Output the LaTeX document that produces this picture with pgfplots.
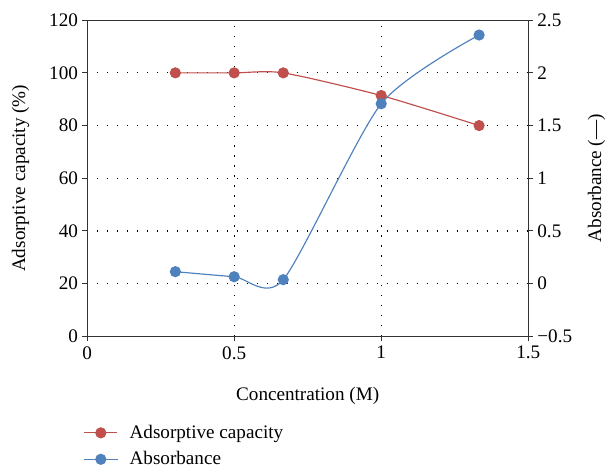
\documentclass[border={3.8pt 0pt 2pt 4.9pt}]{standalone}
\usepackage{fontspec}
\setmainfont{Liberation Serif}
\usepackage{pgfplots}
\pgfplotsset{compat=1.18}
\definecolor{cred}{RGB}{192,80,77}
\definecolor{cblue}{RGB}{79,129,189}
\begin{document}
\begin{tikzpicture}
\pgfplotsset{
 common/.style={width=265pt,height=190pt,scale only axis,
  xmin=0,xmax=1.5,xtick={0,0.5,1,1.5},
  font=\fontsize{11.5}{13}\selectfont,
  /pgf/number format/assume math mode=true,
  tick align=outside, major tick length=3pt,
  tick style={black!80,line width=0.6pt},
  axis line style={line width=0.6pt,black!80}},
}
\begin{axis}[common,
  ymin=0,ymax=120,ytick={0,20,...,120},
  xtick pos=bottom, ytick pos=left,
  grid=major, grid style={black, line width=0.7pt, dash pattern=on 0.7pt off 5.3pt},
  xlabel={Concentration (M)},
  ylabel={Adsorptive capacity (\%)},
  xticklabel style={yshift=0.6pt},
  yticklabel style={xshift=1pt},
  every axis x label/.style={at={([yshift=-35.5pt]rel axis cs:0.5,0)}, anchor=center},
  every axis y label/.style={at={([xshift=-40pt]rel axis cs:0,0.5)}, rotate=90, anchor=center},
]
\addplot[cred, line width=0.7pt, smooth, tension=0.42, mark=*, mark size=3pt]
 coordinates {(0.3,100)(0.5,100)(0.667,100)(1,91.4)(1.333,80)};
\end{axis}
\begin{axis}[common,
  ymin=-0.5,ymax=2.5,ytick={-0.5,0,0.5,1,1.5,2,2.5},
  yticklabels={−0.5,0,0.5,1,1.5,2,2.5},
  yticklabel style={xshift=-1pt},
  axis y line*=right, axis x line=none,
  ylabel={Absorbance (—)},
  every axis y label/.style={at={([xshift=41pt]rel axis cs:1,0.5)}, rotate=90, anchor=center},
  legend style={at={(rel axis cs:-0.02,-0.258)}, anchor=north west, draw=none, fill=none,
    font=\fontsize{11.5}{13}\selectfont, row sep=2.4pt, cells={anchor=west}},
  legend image code/.code={\draw[mark repeat=2,mark phase=2] plot coordinates {(0cm,0cm)(0.35cm,0cm)(0.7cm,0cm)}; \path (0.7cm+5pt,0cm);},
]
\addlegendimage{cred, line width=0.7pt, mark=*, mark size=3pt}
\addlegendentry{Adsorptive capacity}
\addplot[cblue, line width=0.7pt, smooth, tension=0.42, mark=*, mark size=3pt]
 coordinates {(0.3,0.114)(0.5,0.066)(0.667,0.038)(1,1.707)(1.333,2.359)};
\addlegendentry{Absorbance}
\end{axis}
\end{tikzpicture}
\end{document}
